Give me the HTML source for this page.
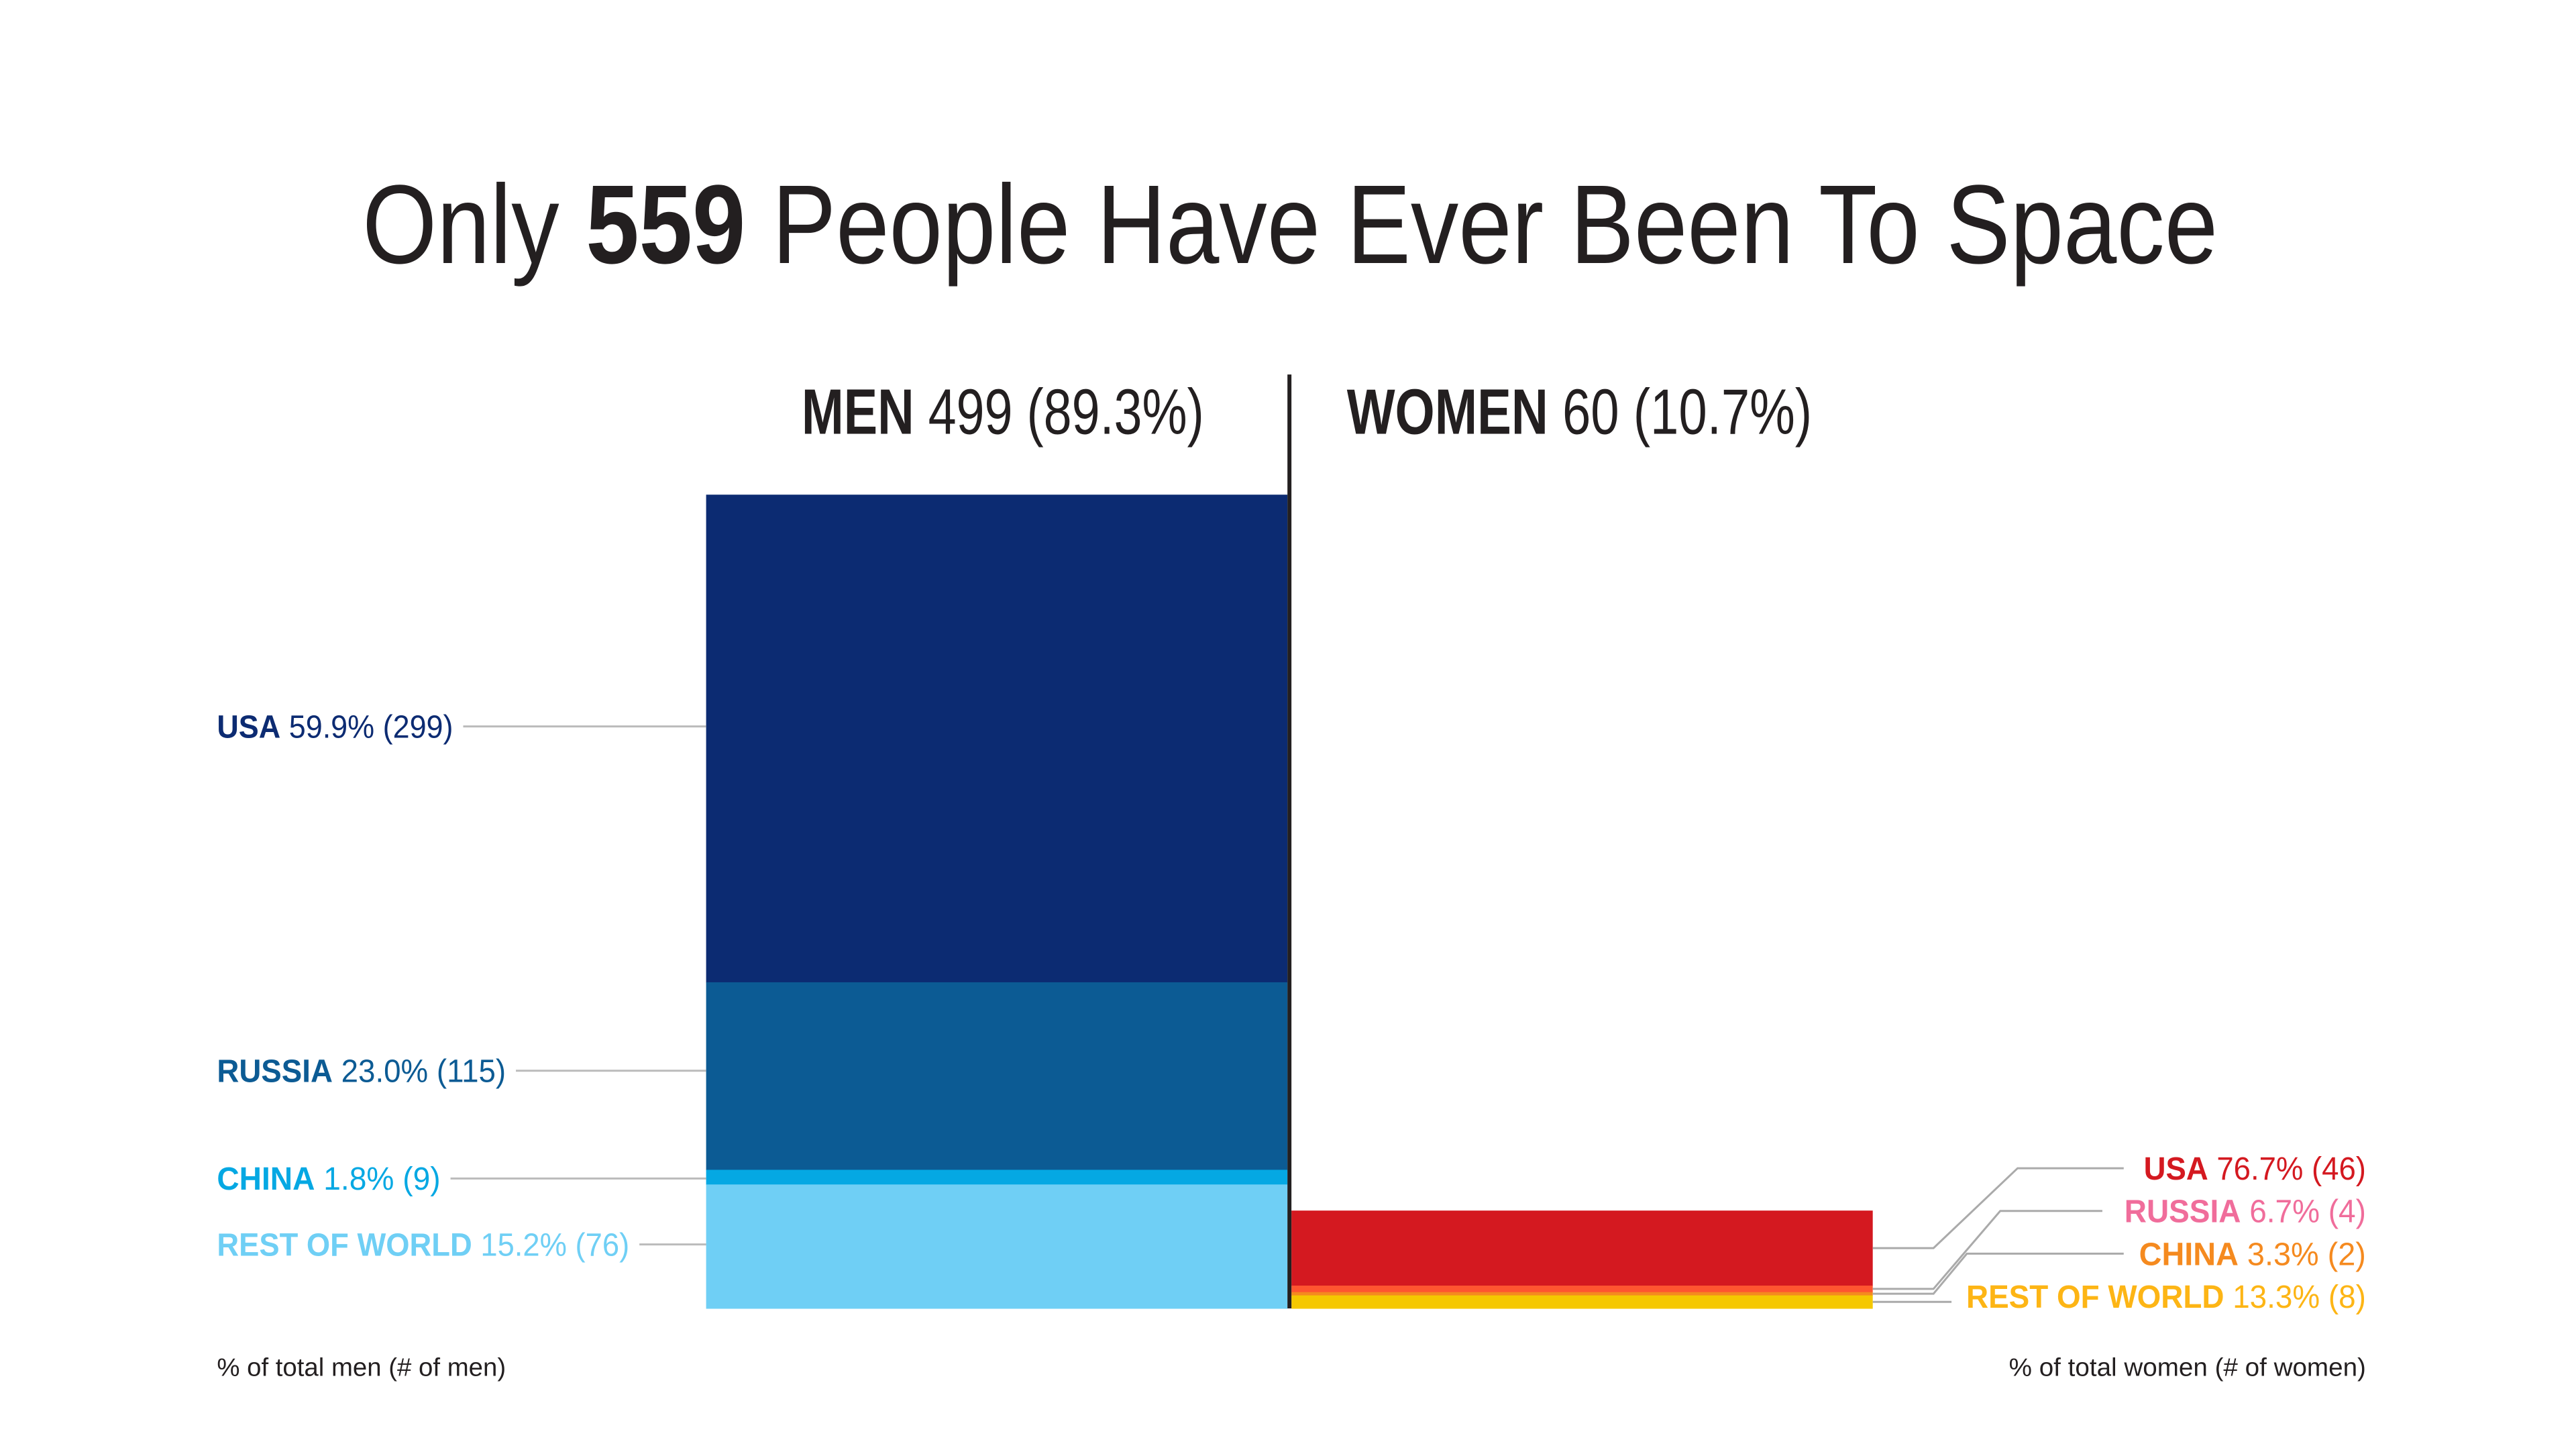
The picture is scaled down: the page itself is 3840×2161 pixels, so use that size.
<!DOCTYPE html>
<html><head><meta charset="utf-8"><style>
html,body{margin:0;padding:0;background:#fff;}
svg{display:block;font-family:"Liberation Sans",sans-serif;}
</style></head><body>
<svg id="chart" width="3840" height="2161" viewBox="0 0 3840 2161" xmlns="http://www.w3.org/2000/svg">
<g transform="scale(0.9949)">
<text x="543" y="394" font-size="168" fill="#231f20" textLength="2780" lengthAdjust="spacingAndGlyphs">Only <tspan font-weight="bold">559</tspan> People Have Ever Been To Space</text>
<text x="1201" y="650" font-size="96" fill="#231f20" textLength="603" lengthAdjust="spacingAndGlyphs"><tspan font-weight="bold">MEN</tspan> 499 (89.3%)</text>
<text x="2018" y="650" font-size="96" fill="#231f20" textLength="697" lengthAdjust="spacingAndGlyphs"><tspan font-weight="bold">WOMEN</tspan> 60 (10.7%)</text>
<text x="325" y="2061" font-size="38" fill="#231f20" textLength="433" lengthAdjust="spacingAndGlyphs">% of total men (# of men)</text>
<text x="3545" y="2061" font-size="38" fill="#231f20" text-anchor="end" textLength="535" lengthAdjust="spacingAndGlyphs">% of total women (# of women)</text>
<g id="marks"></g>
<rect x="1929" y="561" width="6" height="1399" fill="#231f20"/>
</g>
</svg>
<script>
const countries = ["USA","RUSSIA","CHINA","REST OF WORLD"];
const menCounts = [299,115,9,76];
const womenCounts = [46,4,2,8];
const menPct = ["59.9%","23.0%","1.8%","15.2%"];
const womenPct = ["76.7%","6.7%","3.3%","13.3%"];
const menColors = ["#0c2b72","#0c5b94","#05a8e3","#6fcff5"];
const menTextColors = ["#0c2b72","#0c5b94","#05a8e3","#6fcff5"];
const womenColors = ["#d41920","#ff5530","#f58a1f","#f5c800"];
const womenTextColors = ["#d41920","#f06d9b","#f58a1f","#fdb515"];

const NS="http://www.w3.org/2000/svg";
const g=document.getElementById('marks');
const baseY=1960, unit=1219/499;
const yScale=v=>v*unit;
function mk(tag,attrs){const e=document.createElementNS(NS,tag);for(const k in attrs)e.setAttribute(k,attrs[k]);g.appendChild(e);return e;}

let y=baseY-yScale(menCounts.reduce((a,b)=>a+b,0));
const menLabelW=[354,433,335,618];
const menLabelShift=[-18,-8,2,-3];
menCounts.forEach((c,i)=>{
  const h=yScale(c);
  const r=mk('rect',{x:1058,y:y,width:871,height:h+0.5,fill:menColors[i]});
  
  
  const mid=y+h/2+menLabelShift[i];
  const tx=325+menLabelW[i];
  const l=mk('line',{x1:tx+15,y1:mid,x2:1058,y2:mid,stroke:'#bbbbbb','stroke-width':3});
  
  
  const t=mk('text',{x:325,y:mid+17,'font-size':48,fill:menTextColors[i],textLength:menLabelW[i],lengthAdjust:'spacingAndGlyphs'});
  
  
  t.innerHTML='<tspan font-weight="bold">'+countries[i]+'</tspan> '+menPct[i]+' ('+c+')';
  y+=h;
});

y=baseY-yScale(womenCounts.reduce((a,b)=>a+b,0));
const rowY=[1750,1814,1878,1942];
const topX=[3023,2997,2947,null];
const endX=[3182,3150,3182,2924];
const labW=[333,362,340,599];
womenCounts.forEach((c,i)=>{
  const h=yScale(c);
  const r=mk('rect',{x:1935,y:y,width:871,height:h+0.5,fill:womenColors[i]});
  
  
  const mid=y+h/2;
  let pts;
  if(topX[i]===null) pts=`2806,${mid} ${endX[i]},${mid}`;
  else pts=`2806,${mid} 2897,${mid} ${topX[i]},${rowY[i]} ${endX[i]},${rowY[i]}`;
  const l=mk('polyline',{points:pts,fill:'none',stroke:'#aaaaaa','stroke-width':3});
  
  
  const t=mk('text',{x:3545,y:rowY[i]+17,'font-size':48,fill:womenTextColors[i],'text-anchor':'end',textLength:labW[i],lengthAdjust:'spacingAndGlyphs'});
  
  
  t.innerHTML='<tspan font-weight="bold">'+countries[i]+'</tspan> '+womenPct[i]+' ('+c+')';
  y+=h;
});
</script>
</body></html>
